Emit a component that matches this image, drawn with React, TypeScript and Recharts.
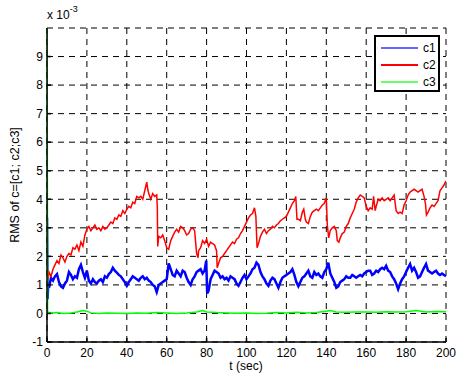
import React from "react";
import {
  LineChart,
  Line,
  XAxis,
  YAxis,
  CartesianGrid,
} from "recharts";

// values are in units of 1e-3 (see the "x 10^-3" note above the axis)
const c1T = [0, 0.3, 0.6, 1, 2, 3, 4, 5, 6, 7, 8, 9, 10, 11, 12, 13, 14, 15, 16, 17, 18, 19, 20, 21, 22, 23, 24, 25, 26, 27, 28, 29, 30, 31, 32, 33, 34, 35, 36, 37, 38, 39, 40, 41, 42, 43, 44, 45, 46, 47, 48, 49, 50, 51, 52, 53, 54, 55, 56, 57, 58, 59, 60, 61, 62, 63, 64, 65, 66, 67, 68, 69, 70, 71, 72, 73, 74, 75, 76, 77, 78, 79, 79.8, 80.3, 81, 82, 83, 84, 85, 86, 87, 88, 89, 90, 91, 92, 93, 94, 95, 96, 97, 98, 99, 100, 101, 102, 103, 104, 105, 106, 107, 108, 109, 110, 111, 112, 113, 114, 115, 116, 117, 118, 119, 120, 121, 122, 123, 124, 125, 126, 127, 128, 129, 130, 131, 132, 133, 134, 135, 136, 137, 138, 139, 140, 141, 142, 143, 144, 145, 146, 147, 148, 149, 150, 151, 152, 153, 154, 155, 156, 157, 158, 159, 160, 161, 162, 163, 164, 165, 166, 167, 168, 169, 170, 171, 172, 173, 174, 175, 176, 177, 178, 179, 180, 181, 182, 183, 184, 185, 186, 187, 188, 189, 190, 191, 192, 193, 194, 195, 196, 197, 198, 199, 200];
const c1V = [3.35, 0.5, 1.0, 0.9, 1.25, 1.15, 1.3, 1.38, 1.1, 0.95, 0.9, 1.05, 1.15, 1.45, 1.35, 1.2, 1.3, 1.25, 1.55, 1.7, 1.45, 1.25, 1.5, 1.15, 1.05, 1.2, 1.1, 1.05, 1.15, 1.2, 1.1, 1.3, 1.25, 1.38, 1.45, 1.6, 1.5, 1.43, 1.35, 1.3, 1.2, 1.1, 0.97, 1.1, 1.2, 1.3, 1.25, 1.2, 1.15, 1.25, 1.3, 1.2, 1.25, 1.15, 1.1, 1.0, 0.95, 0.75, 1.0, 1.05, 1.1, 1.15, 1.2, 1.75, 1.55, 1.35, 1.3, 1.5, 1.4, 1.3, 1.5, 1.45, 1.25, 1.1, 1.0, 1.2, 1.3, 1.45, 1.5, 1.55, 1.4, 1.5, 1.85, 0.7, 0.8, 1.2, 1.35, 1.5, 1.45, 1.4, 1.25, 1.3, 1.2, 1.25, 1.15, 1.3, 1.25, 1.2, 1.05, 0.97, 1.1, 1.25, 1.35, 1.2, 1.3, 1.4, 1.55, 1.6, 1.78, 1.7, 1.45, 1.3, 1.2, 1.05, 0.97, 1.15, 1.25, 1.2, 1.05, 0.9, 1.1, 1.25, 1.3, 1.35, 1.4, 1.45, 1.55, 1.35, 1.1, 0.95, 1.1, 1.25, 1.3, 1.4, 1.5, 1.3, 1.25, 1.45, 1.35, 1.4, 1.3, 1.25, 1.45, 1.55, 1.78, 1.4, 1.25, 1.1, 0.9, 0.95, 1.1, 1.15, 1.2, 1.3, 1.25, 1.25, 1.35, 1.3, 1.25, 1.3, 1.35, 1.3, 1.4, 1.45, 1.5, 1.5, 1.35, 1.4, 1.5, 1.45, 1.55, 1.6, 1.55, 1.67, 1.5, 1.45, 1.3, 1.2, 1.05, 0.85, 1.05, 1.2, 1.3, 1.45, 1.6, 1.73, 1.5, 1.6, 1.45, 1.25, 1.3, 1.45, 1.6, 1.73, 1.5, 1.45, 1.4, 1.45, 1.5, 1.4, 1.35, 1.4, 1.35, 1.3];

const c2T = [0.5, 1, 2, 3, 4, 5, 6, 7, 8, 9, 10, 11, 12, 13, 14, 15, 16, 17, 18, 19, 20, 21, 22, 23, 24, 25, 26, 27, 28, 29, 30, 31, 32, 33, 34, 35, 36, 37, 38, 39, 40, 41, 42, 43, 44, 45, 46, 47, 48, 49, 50, 50.5, 51, 52, 53, 54, 55, 55.3, 55.5, 56, 57, 58, 59, 60, 61, 62, 63, 64, 65, 66, 67, 68, 69, 70, 71, 72, 73, 74, 74.5, 75, 75.7, 76, 77, 78, 79, 80, 81, 82, 83, 84, 85, 85.3, 86, 87, 88, 89, 90, 91, 92, 93, 94, 95, 96, 97, 98, 99, 100, 101, 102, 103, 104, 104.7, 105.3, 106, 107, 108, 109, 110, 111, 112, 113, 114, 115, 116, 117, 118, 119, 120, 121, 122, 123, 124, 124.7, 125.3, 126, 127, 128, 128.7, 129.5, 130, 131, 132, 133, 134, 135, 136, 137, 138, 139, 140, 140.5, 141.2, 142, 143, 144, 145, 145.5, 146.3, 147, 148, 149, 150, 151, 152, 153, 154, 155, 156, 157, 158, 159, 160, 161, 162, 163, 163.7, 164.5, 165, 166, 167, 168, 169, 170, 171, 172, 173, 174, 175, 176, 177, 178, 179, 180, 181, 182, 183, 184, 185, 186, 187, 188, 189, 189.7, 190.2, 191, 192, 193, 194, 195, 196, 197, 198, 199, 200];
const c2V = [1.2, 1.45, 1.3, 1.55, 1.7, 1.85, 1.75, 2.05, 1.95, 1.8, 2.0, 2.1, 2.05, 2.3, 2.25, 2.4, 2.2, 2.5, 2.35, 2.75, 2.95, 3.05, 2.9, 3.0, 3.1, 2.95, 3.0, 2.9, 3.05, 2.95, 3.0, 3.1, 3.2, 3.15, 3.35, 3.3, 3.45, 3.4, 3.6, 3.5, 3.65, 3.75, 3.7, 3.9, 3.85, 4.1, 4.05, 4.1, 4.0, 4.3, 4.6, 4.35, 4.2, 4.0, 4.2, 4.1, 4.15, 3.7, 2.35, 2.7, 2.65, 2.75, 2.55, 2.3, 2.25, 2.55, 2.7, 2.85, 2.95, 2.85, 3.05, 3.0, 2.9, 2.75, 2.8, 2.95, 3.0, 2.9, 2.5, 2.1, 1.95, 2.2, 2.3, 2.55, 2.45, 2.6, 2.35, 2.5, 2.45, 2.4, 2.2, 1.6, 1.75, 1.95, 2.0, 2.1, 2.2, 2.3, 2.4, 2.5, 2.45, 2.6, 2.65, 2.8, 2.9, 3.05, 3.2, 3.35, 3.45, 3.5, 3.7, 3.4, 2.3, 2.45, 2.7, 2.85, 2.95, 2.8, 2.9, 2.95, 3.05, 3.0, 3.1, 3.15, 3.25, 3.3, 3.35, 3.4, 3.55, 3.7, 3.85, 3.95, 4.1, 3.3, 3.3, 3.25, 3.55, 3.65, 3.3, 3.2, 3.15, 3.4, 3.55, 3.6, 3.65, 3.6, 3.7, 3.8, 3.85, 4.05, 3.1, 2.65, 2.9, 3.0, 3.05, 2.9, 2.55, 2.5, 2.65, 2.8, 2.85, 3.05, 3.15, 3.35, 3.5, 3.65, 3.9, 4.05, 4.15, 4.1, 4.05, 3.75, 3.6, 3.7, 3.65, 4.1, 3.6, 3.75, 4.0, 3.95, 4.05, 3.95, 4.0, 4.05, 3.95, 4.05, 4.15, 3.6, 3.5, 3.55, 3.5, 3.8, 3.95, 4.15, 4.25, 4.3, 4.35, 4.3, 4.25, 4.3, 4.35, 4.1, 3.85, 3.45, 3.55, 3.7, 3.8, 3.75, 3.85, 3.95, 4.3, 4.4, 4.5, 4.65];

const c3T = [0, 0.3, 2, 5, 8, 12, 15, 18, 20, 22, 26, 30, 35, 40, 45, 50, 55, 60, 65, 70, 75, 78, 80, 85, 90, 95, 100, 105, 110, 115, 120, 125, 130, 135, 140, 142, 145, 150, 155, 160, 165, 170, 175, 180, 185, 190, 195, 200];
const c3V = [12, 0.05, 0.02, 0.03, 0.0, 0.02, 0.05, 0.1, 0.08, 0.02, 0.0, 0.02, 0.01, 0.0, 0.02, 0.01, 0.03, 0.02, 0.0, 0.02, 0.05, 0.1, 0.05, 0.03, 0.02, 0.01, 0.02, 0.0, 0.01, 0.03, 0.02, 0.04, 0.02, 0.03, 0.08, 0.1, 0.05, 0.04, 0.05, 0.05, 0.04, 0.06, 0.05, 0.06, 0.1, 0.05, 0.07, 0.06];

const xTicks = [0, 20, 40, 60, 80, 100, 120, 140, 160, 180, 200];
const yTicks = [-1, 0, 1, 2, 3, 4, 5, 6, 7, 8, 9];

const series = [
  { name: "c1", color: "#0000ff", width: 2.5, data: c1T.map((t, i) => ({ t, v: c1V[i] })) },
  { name: "c2", color: "#ff0000", width: 1.5, data: c2T.map((t, i) => ({ t, v: c2V[i] })) },
  { name: "c3", color: "#00ff00", width: 1.5, data: c3T.map((t, i) => ({ t, v: c3V[i] })) },
];

const font = "Arial, 'Liberation Sans', Helvetica, sans-serif";

function LegendBox() {
  return (
    <div
      style={{
        position: "absolute",
        left: 374,
        top: 35,
        width: 62,
        height: 51,
        border: "2px solid #000",
        background: "#fff",
        fontFamily: font,
        fontSize: 12,
        paddingTop: 2,
      }}
    >
      {series.map((s) => (
        <div key={s.name} style={{ display: "flex", alignItems: "center", height: 17 }}>
          <div style={{ marginLeft: 5, width: 37, height: 2, background: s.color, opacity: s.name === "c2" ? 1 : 0.6 }} />
          <span style={{ marginLeft: 5, color: "#000" }}>{s.name}</span>
        </div>
      ))}
    </div>
  );
}

export default function App() {
  return (
    <div style={{ position: "absolute", left: 0, top: 0, width: 459, height: 376, background: "#fff", fontFamily: font }}>
      <LineChart width={459} height={376} margin={{ top: 28, right: 13, bottom: 0, left: 0 }}>
        <CartesianGrid stroke="#000" strokeDasharray="6 5" strokeWidth={1} />
        <XAxis
          dataKey="t"
          type="number"
          domain={[0, 200]}
          ticks={xTicks}
          allowDataOverflow
          height={34}
          stroke="#000"
          strokeWidth={1.5}
          tickSize={-4}
          tickMargin={10}
          tick={{ fill: "#000", fontSize: 12, fontFamily: font }}
        />
        <XAxis
          xAxisId="top"
          orientation="top"
          type="number"
          domain={[0, 200]}
          ticks={xTicks}
          height={0}
          stroke="#000"
          strokeWidth={1.5}
          tickSize={-4}
          tickFormatter={() => ""}
        />
        <YAxis
          type="number"
          domain={[-1, 10]}
          ticks={yTicks}
          allowDataOverflow
          width={47}
          stroke="#000"
          strokeWidth={1.5}
          tickSize={-4}
          tickMargin={8}
          tick={{ fill: "#000", fontSize: 12, fontFamily: font }}
        />
        <YAxis
          yAxisId="right"
          orientation="right"
          type="number"
          domain={[-1, 10]}
          ticks={yTicks}
          width={0}
          stroke="#000"
          strokeWidth={1.5}
          tickSize={-4}
          tickFormatter={() => ""}
        />
        {series.map((s) => (
          <Line
            key={s.name}
            data={s.data}
            dataKey="v"
            name={s.name}
            type="linear"
            stroke={s.color}
            strokeWidth={s.width}
            dot={false}
            isAnimationActive={false}
          />
        ))}
      </LineChart>
      <LegendBox />
      <div style={{ position: "absolute", left: 47, top: 6, fontSize: 12, color: "#000" }}>
        x 10<sup style={{ fontSize: 9, position: "relative", top: -2 }}>-3</sup>
      </div>
      <div
        style={{
          position: "absolute",
          left: 15,
          top: 185,
          transform: "translate(-50%, -50%) rotate(-90deg)",
          whiteSpace: "nowrap",
          fontSize: 12.5,
          color: "#000",
        }}
      >
        RMS of c=[c1; c2;c3]
      </div>
      <div style={{ position: "absolute", left: 246, top: 366, transform: "translate(-50%, -50%)", fontSize: 12, color: "#000" }}>
        t (sec)
      </div>
    </div>
  );
}
